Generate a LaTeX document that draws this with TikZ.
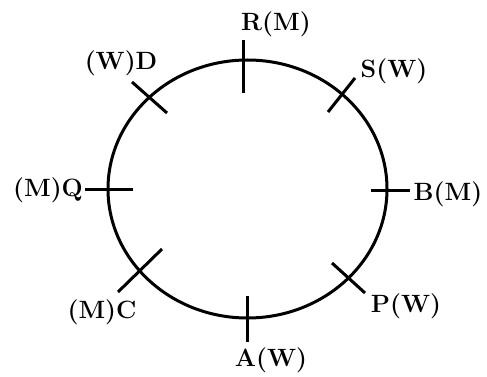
\documentclass[tikz,border=0pt]{standalone}
\usepackage{tikz}

\begin{document}
\begin{tikzpicture}[x=1pt, y=-1pt,
  seat/.style={line width=3pt, black},
  lbl/.style={font=\fontsize{25}{30}\selectfont\bfseries, inner sep=0pt},
]
\useasboundingbox (0,0) rectangle (487,377);

% Round table
\draw[seat] (247.5,189) ellipse [x radius=139.5, y radius=129];

% Seat marks
\coordinate (r1) at (243,40);  \coordinate (r2) at (243,93);
\coordinate (s1) at (355,78);  \coordinate (s2) at (328,112);
\coordinate (b1) at (371,190); \coordinate (b2) at (410,190);
\coordinate (p1) at (332,263); \coordinate (p2) at (365,293);
\coordinate (a1) at (247,296); \coordinate (a2) at (247,342);
\coordinate (c1) at (118,292); \coordinate (c2) at (162,249);
\coordinate (q1) at (85,189);  \coordinate (q2) at (133,189);
\coordinate (d1) at (132,82);  \coordinate (d2) at (167,113);
\foreach \m in {r,s,b,p,a,c,q,d}
  \draw[seat] (\m1) -- (\m2);

% Persons
\node[lbl] (R) at (276,24)  {R(M)};
\node[lbl] (S) at (394,71)  {S(W)};
\node[lbl] (B) at (448,194) {B(M)};
\node[lbl] (P) at (406,306) {P(W)};
\node[lbl] (A) at (271,360) {A(W)};
\node[lbl] (C) at (102,312) {(M)C};
\node[lbl] (Q) at (48,190)  {(M)Q};
\node[lbl] (D) at (121,63)  {(W)D};
\end{tikzpicture}
\end{document}
